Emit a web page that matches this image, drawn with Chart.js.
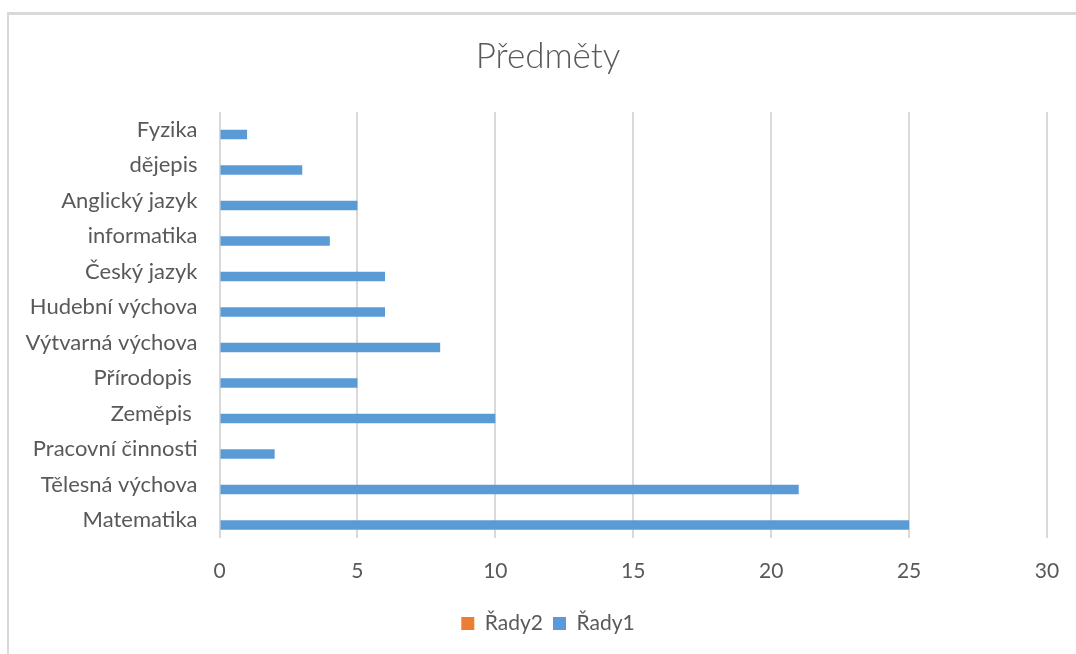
<!DOCTYPE html>
<html>
<head>
<meta charset="utf-8">
<script src="https://cdn.jsdelivr.net/npm/chart.js@4.4.1/dist/chart.umd.min.js"></script>
<style>
  html, body { margin: 0; padding: 0; background: #fff; }
  #wrap { position: relative; width: 1076px; height: 654px; overflow: hidden; }
  #frame { position: absolute; left: 7px; top: 12px; width: 1100px; height: 700px;
           border-left: 2px solid #d9d9d9; border-top: 3px solid #d9d9d9; box-sizing: border-box; }
  #c { position: absolute; left: 0; top: 0; }
</style>
</head>
<body>
<div id="wrap">
  <div id="frame"></div>
  <canvas id="c" width="1076" height="654"></canvas>
</div>
<script>
// Categories listed top to bottom as they appear in the chart
const categories = ["Fyzika", "dějepis", "Anglický jazyk", "informatika", "Český jazyk",
  "Hudební výchova", "Výtvarná výchova", "Přírodopis ", "Zeměpis ", "Pracovní činnosti",
  "Tělesná výchova", "Matematika"];
const rady1 = [1, 3, 5, 4, 6, 6, 8, 5, 10, 2, 21, 25];
const rady2 = [null, null, null, null, null, null, null, null, null, null, null, null];
const xTicks = [0, 5, 10, 15, 20, 25, 30];

const FONT = "Lato, 'Open Sans', sans-serif";
const TXT = "#595959";

// Centre title and legend on the whole (wider) chart frame
const frameFix = {
  id: 'frameFix',
  afterLayout(chart) {
    const d = 20.5;
    [chart.titleBlock, chart.legend].forEach(b => {
      if (b) { b.left += d; b.right += d; }
    });
  }
};

new Chart(document.getElementById('c'), {
  type: 'bar',
  data: {
    labels: categories,
    datasets: [
      { label: 'Řady2', data: rady2, backgroundColor: '#ED7D31', borderWidth: 0 },
      { label: 'Řady1', data: rady1, backgroundColor: '#5B9BD5', borderWidth: 0 }
    ]
  },
  plugins: [frameFix],
  options: {
    indexAxis: 'y',
    responsive: false,
    animation: false,
    devicePixelRatio: 1,
    datasets: { bar: { categoryPercentage: 0.54, barPercentage: 1 } },
    layout: { padding: { left: 8, right: 29, top: 12, bottom: 10 } },
    plugins: {
      title: {
        display: true, text: 'Předměty', color: TXT,
        font: { family: FONT, size: 35, weight: 300 },
        padding: { top: 24, bottom: 34 }
      },
      legend: {
        position: 'bottom',
        labels: {
          color: TXT, font: { family: FONT, size: 21 },
          boxWidth: 13, boxHeight: 13, padding: 10
        }
      },
      tooltip: { enabled: false }
    },
    scales: {
      x: {
        min: 0, max: 30,
        afterBuildTicks: (s) => { s.ticks = xTicks.map(v => ({ value: v })); },
        grid: { color: '#d9d9d9', lineWidth: 2, drawTicks: false },
        border: { display: false },
        ticks: { color: TXT, font: { family: FONT, size: 21 }, padding: 21 },
        afterFit: (s) => { s.height = 65; s.paddingRight = 0; s.paddingLeft = 0; }
      },
      y: {
        grid: { display: false, drawTicks: false },
        border: { display: false },
        ticks: { color: TXT, font: { family: FONT, size: 22 }, padding: 22 },
        afterFit: (s) => { s.width = 211.5; }
      }
    }
  }
});
</script>
</body>
</html>
